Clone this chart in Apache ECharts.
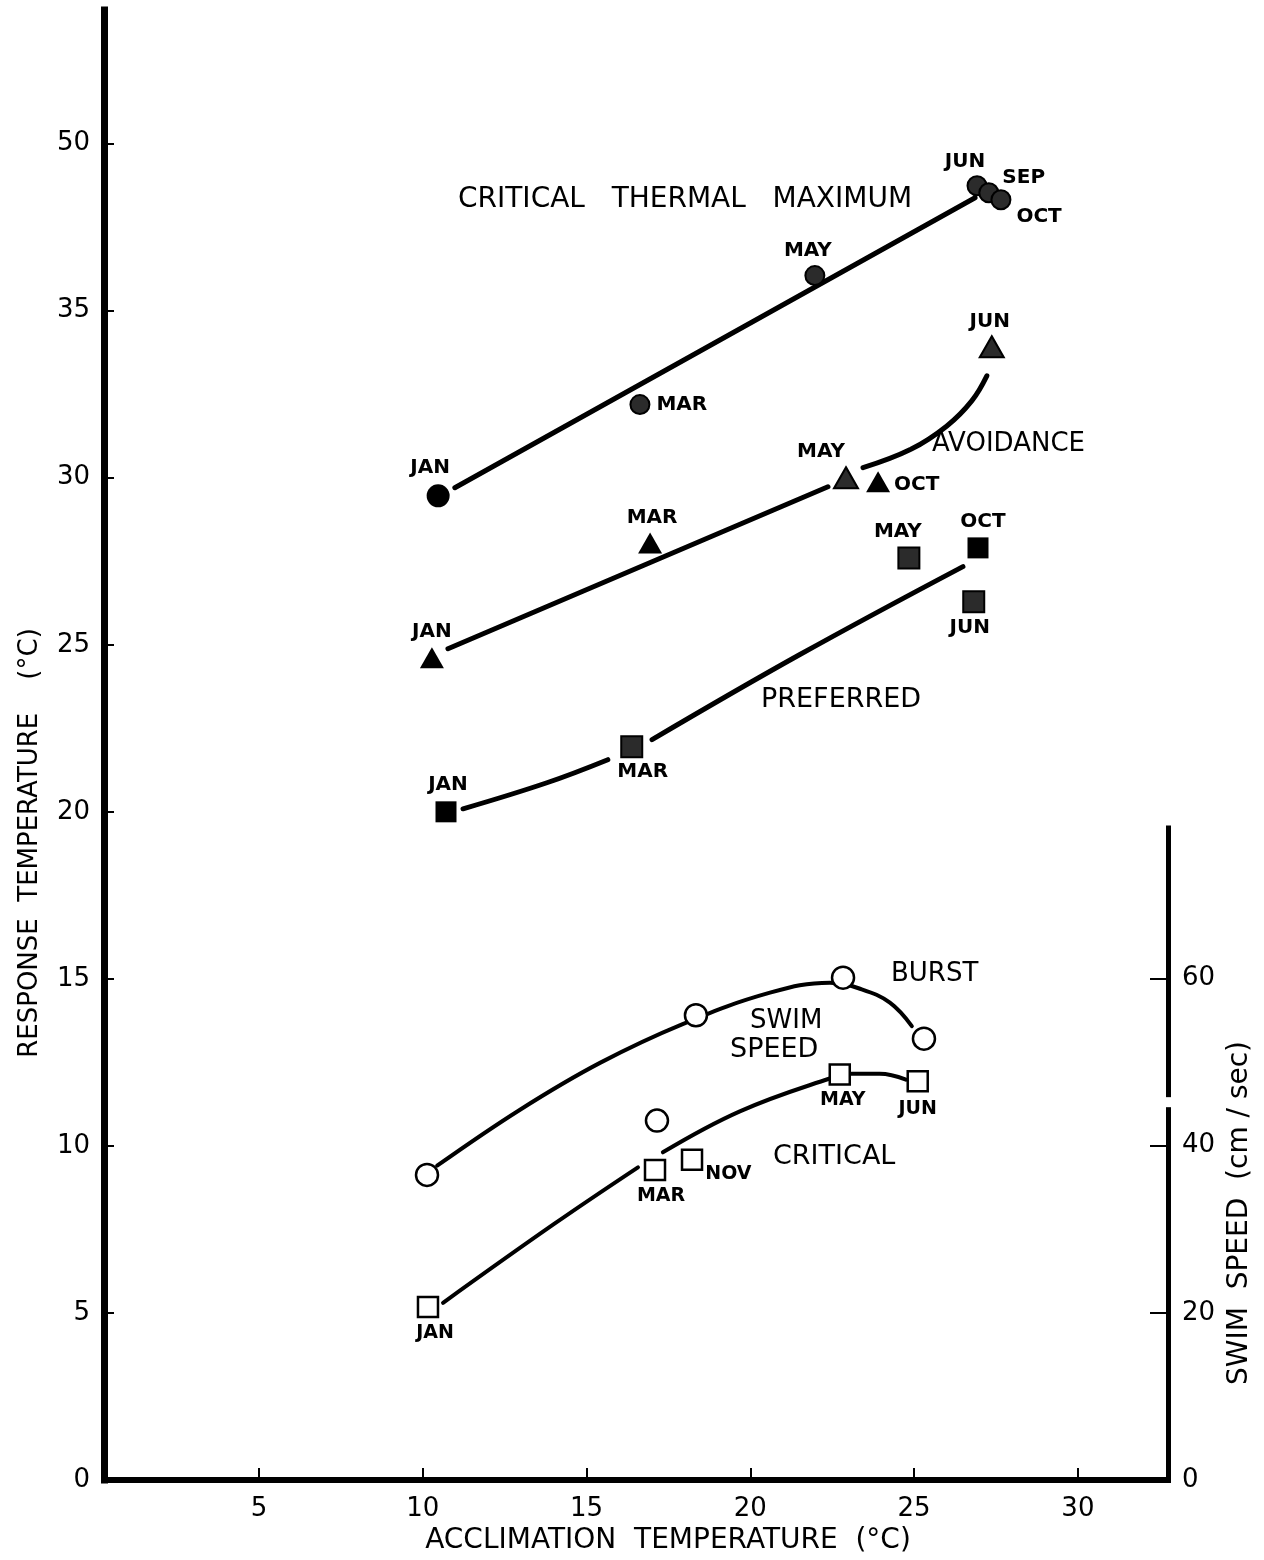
<!DOCTYPE html>
<html>
<head>
<meta charset="utf-8">
<title>Response temperature vs acclimation temperature</title>
<script src="https://cdn.jsdelivr.net/npm/echarts@6/dist/echarts.min.js"></script>
<style>
  html, body { margin: 0; padding: 0; background: #fff; }
  #chart { width: 1264px; height: 1560px; }
</style>
</head>
<body>
<div id="chart"></div>
<script>
// ---- data (acclimation °C -> response °C) ----
const ctmMonths = ["JAN", "MAR", "MAY", "JUN", "SEP", "OCT"];
const ctmAccl = [10.47, 16.63, 21.97, 26.92, 27.28, 27.65];
const ctmResp = [29.46, 32.19, 36.05, 38.74, 38.53, 38.32];

const avoMonths = ["JAN", "MAR", "MAY", "OCT", "JUN"];
const avoAccl = [10.28, 16.94, 22.92, 23.9, 27.37];
const avoResp = [24.61, 28.05, 30.0, 29.88, 33.92];

const prefMonths = ["JAN", "MAR", "MAY", "OCT", "JUN"];
const prefAccl = [10.71, 16.38, 24.84, 26.95, 26.82];
const prefResp = [20.0, 21.95, 27.6, 27.9, 26.29];

// swim speed, cm/sec (right axis)
const burstAccl = [10.13, 17.15, 18.34, 22.83, 25.3];
const burstSpeed = [36.5, 43.0, 55.6, 60.1, 52.8];

const critMonths = ["JAN", "MAR", "NOV", "MAY", "JUN"];
const critAccl = [10.16, 17.09, 18.22, 22.73, 25.11];
const critSpeed = [20.7, 37.1, 38.3, 48.5, 47.7];

// hand drawn fitted curves (null = break in the pen line)
const ctmFitX = [10.98, 26.86];
const ctmFitY = [29.7, 38.38];
const avoFitX = [10.77, 22.37, null, 23.44, 24.9, 26.0, 26.76, 27.22];
const avoFitY = [24.88, 29.73, null, 30.3, 30.85, 31.55, 32.3, 33.05];
const prefFitX = [11.23, 13.79, 15.65, null, 17.0, 21.5, 26.49];
const prefFitY = [20.09, 20.87, 21.56, null, 22.16, 24.7, 27.34];
const burstFitX = [10.44, 12.97, 15.41, 17.97, 20.6, 22.43, 23.4, 24.26, 24.93];
const burstFitY = [37.6, 44.3, 49.9, 54.6, 58.3, 59.5, 58.7, 57.1, 54.3];
const critFitX = [10.62, 14.0, 16.57, null, 17.33, 19.68, 22.4, 23.1, 23.95, 24.75];
const critFitY = [21.2, 30.6, 37.4, null, 39.2, 44.1, 48.0, 48.6, 48.6, 47.9];

// tick labels
const xTicks = [5, 10, 15, 20, 25, 30];
const yTicks = [0, 5, 10, 15, 20, 25, 30, 35, 40];
const yTickText = ["0", "5", "10", "15", "20", "25", "30", "35", "50"];
const speedTicks = [0, 20, 40, 60];

const FONT = "'DejaVu Sans', 'Liberation Sans', sans-serif";

// where each month label sits next to its marker
const labelPlace = {
  ctm: {
    JAN: ["top", [-8, 0], 6], MAR: ["right", [0, 0], 6], MAY: ["top", [-7, 0], 4],
    JUN: ["top", [-12, 0], 3], SEP: ["right", [0, -15], 3], OCT: ["right", [0, 17], 5]
  },
  avo: {
    JAN: ["top", [0, 0], 6], MAR: ["top", [2, 0], 5], MAY: ["top", [-25, 0], 4],
    OCT: ["right", [0, 3], 4], JUN: ["top", [-2, 0], 4]
  },
  pref: {
    JAN: ["top", [2, 0], 7], MAR: ["bottom", [11, 0], 4], MAY: ["top", [-11, 0], 5],
    OCT: ["top", [5, 0], 6], JUN: ["bottom", [-4, 0], 5]
  },
  crit: {
    JAN: ["bottom", [7, 0], 5], MAR: ["bottom", [6, 0], 5], NOV: ["right", [0, 14], 2],
    MAY: ["bottom", [3, 0], 5], JUN: ["bottom", [0, 0], 7]
  }
};
// stippled (half-tone) markers in the print
const stippled = {
  ctm: ["MAR", "MAY", "JUN", "SEP", "OCT"],
  avo: ["MAY", "JUN"],
  pref: ["MAY", "JUN", "MAR"]
};

function pairs(xs, ys) {
  return xs.map((x, i) => (x === null ? "-" : [x, ys[i]]));
}

function markerItems(key, months, xs, ys) {
  return months.map((m, i) => {
    const p = labelPlace[key][m];
    const dotted = stippled[key] && stippled[key].includes(m);
    return {
      name: m,
      value: [xs[i], ys[i]],
      itemStyle: dotted ? { color: "#2b2b2b", borderColor: "#000", borderWidth: 2, opacity: 1 } : undefined,
      label: { position: p[0], offset: p[1], distance: p[2] }
    };
  });
}

const monthLabel = {
  show: true,
  formatter: "{b}",
  color: "#000",
  opacity: 1,
  fontFamily: FONT,
  fontWeight: "bold",
  fontSize: 20
};

function fitLine(data, xi, yi, width) {
  return {
    type: "line",
    xAxisIndex: xi,
    yAxisIndex: yi,
    data: data,
    smooth: 0.4,
    connectNulls: false,
    showSymbol: false,
    symbol: "none",
    lineStyle: { color: "#000", width: width, cap: "round", opacity: 1 },
    silent: true,
    z: 2
  };
}

function note(id, text, left, top, size) {
  return { id: id, type: "text", left: left, top: top, style: { text: text, fill: "#000", font: size + "px " + FONT } };
}

const chart = echarts.init(document.getElementById("chart"));

const option = {
  backgroundColor: "#fff",
  animation: false,
  grid: [
    { left: 104, right: 96, top: 10, bottom: 80 },
    { left: 104, right: 96, top: 828, bottom: 80 }
  ],
  xAxis: [
    {
      gridIndex: 0,
      type: "value",
      min: 0.27,
      max: 32.75,
      axisLine: { lineStyle: { color: "#000", width: 6, cap: "square" } },
      axisTick: { inside: true, length: 12, customValues: xTicks, lineStyle: { color: "#000", width: 2 } },
      axisLabel: { customValues: xTicks, color: "#000", fontSize: 26, fontFamily: FONT, margin: 16 },
      splitLine: { show: false }
    },
    { gridIndex: 1, type: "value", min: 0.27, max: 32.75, show: false }
  ],
  yAxis: [
    {
      gridIndex: 0,
      type: "value",
      min: 0,
      max: 44,
      axisLine: { lineStyle: { color: "#000", width: 7, cap: "square" } },
      axisTick: { inside: true, length: 10, customValues: yTicks, lineStyle: { color: "#000", width: 2 } },
      axisLabel: {
        customValues: yTicks,
        color: "#000",
        fontSize: 26,
        fontFamily: FONT,
        margin: 14,
        formatter: v => yTickText[yTicks.indexOf(v)]
      },
      splitLine: { show: false }
    },
    {
      gridIndex: 1,
      type: "value",
      position: "right",
      min: 0,
      max: 78,
      axisLine: { lineStyle: { color: "#000", width: 5, cap: "square" } },
      axisTick: { inside: true, length: 18, customValues: [20, 40, 60], lineStyle: { color: "#000", width: 2 } },
      axisLabel: { customValues: speedTicks, color: "#000", fontSize: 26, fontFamily: FONT, margin: 14 },
      splitLine: { show: false }
    }
  ],
  series: [
    fitLine(pairs(ctmFitX, ctmFitY), 0, 0, 5),
    fitLine(pairs(avoFitX, avoFitY), 0, 0, 5),
    fitLine(pairs(prefFitX, prefFitY), 0, 0, 5),
    fitLine(pairs(burstFitX, burstFitY), 1, 1, 4),
    fitLine(pairs(critFitX, critFitY), 1, 1, 4),
    {
      name: "Critical thermal maximum",
      type: "scatter",
      xAxisIndex: 0, yAxisIndex: 0,
      symbol: "circle",
      symbolSize: (v, p) => (p.dataIndex === 0 ? 23 : 19),
      itemStyle: { color: "#000", opacity: 1 },
      label: monthLabel,
      data: markerItems("ctm", ctmMonths, ctmAccl, ctmResp),
      z: 3
    },
    {
      name: "Avoidance",
      type: "scatter",
      xAxisIndex: 0, yAxisIndex: 0,
      symbol: "triangle",
      symbolSize: [24, 21],
      itemStyle: { color: "#000", opacity: 1 },
      label: monthLabel,
      data: markerItems("avo", avoMonths, avoAccl, avoResp),
      z: 3
    },
    {
      name: "Preferred",
      type: "scatter",
      xAxisIndex: 0, yAxisIndex: 0,
      symbol: "rect",
      symbolSize: 21,
      itemStyle: { color: "#000", opacity: 1 },
      label: monthLabel,
      data: markerItems("pref", prefMonths, prefAccl, prefResp),
      z: 3
    },
    {
      name: "Burst swim speed",
      type: "scatter",
      xAxisIndex: 1, yAxisIndex: 1,
      symbol: "circle",
      symbolSize: 22,
      itemStyle: { color: "#fff", borderColor: "#000", borderWidth: 2.5, opacity: 1 },
      data: pairs(burstAccl, burstSpeed),
      z: 3
    },
    {
      name: "Critical swim speed",
      type: "scatter",
      xAxisIndex: 1, yAxisIndex: 1,
      symbol: "rect",
      symbolSize: 20,
      itemStyle: { color: "#fff", borderColor: "#000", borderWidth: 2.5, opacity: 1 },
      label: Object.assign({}, monthLabel, { fontSize: 19 }),
      data: markerItems("crit", critMonths, critAccl, critSpeed),
      z: 3
    }
  ],
  graphic: [
    note("t-ctm", "CRITICAL   THERMAL   MAXIMUM", 458, 186, 28),
    note("t-avo", "AVOIDANCE", 932, 431, 26),
    note("t-pref", "PREFERRED", 761, 686, 27),
    note("t-burst", "BURST", 891, 961, 26),
    note("t-swim", "SWIM", 750, 1008, 26),
    note("t-speed", "SPEED", 730, 1036, 27),
    note("t-crit", "CRITICAL", 773, 1143, 27),
    {
      id: "name-x", type: "text", x: 668, y: 1541,
      style: { text: "ACCLIMATION  TEMPERATURE  (°C)", fill: "#000", font: "28px " + FONT, align: "center", verticalAlign: "middle" }
    },
    {
      id: "name-y", type: "text", x: 30, y: 843, rotation: Math.PI / 2,
      style: { text: "RESPONSE  TEMPERATURE    (°C)", fill: "#000", font: "26px " + FONT, align: "center", verticalAlign: "middle" }
    },
    {
      id: "name-y2", type: "text", x: 1240, y: 1213, rotation: Math.PI / 2,
      style: { text: "SWIM  SPEED  (cm / sec)", fill: "#000", font: "28px " + FONT, align: "center", verticalAlign: "middle" }
    }
  ]
};

chart.setOption(option);

// small break drawn in the right-hand axis, between 44.6 and 45.8 cm/sec
const yA = chart.convertToPixel({ yAxisIndex: 1 }, 45.8);
const yB = chart.convertToPixel({ yAxisIndex: 1 }, 44.6);
const xR = chart.convertToPixel({ xAxisIndex: 1 }, 32.75);
chart.setOption({
  graphic: [
    { id: "axis-break", type: "rect", z: 100, shape: { x: xR - 6, y: yA, width: 12, height: yB - yA }, style: { fill: "#fff" } }
  ]
});
</script>
</body>
</html>
